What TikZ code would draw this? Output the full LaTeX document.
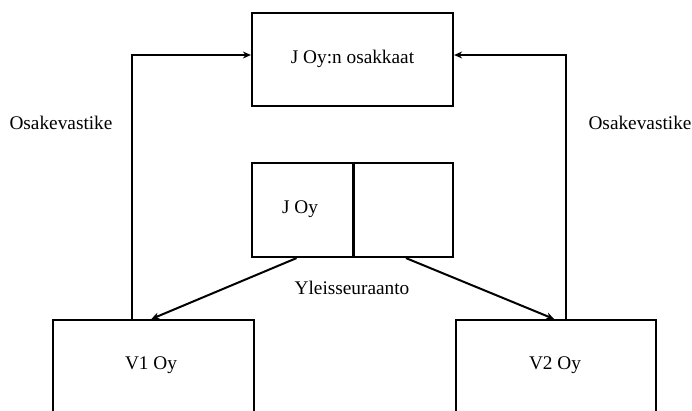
\documentclass[tikz,border=0pt]{standalone}
\usepackage{fontspec}
\setmainfont{Liberation Serif}
\usetikzlibrary{arrows.meta}
\begin{document}
\begin{tikzpicture}[x=1pt,y=-1pt,
  box/.style={draw,line width=2.2pt,inner sep=0pt},
  lbl/.style={inner sep=0pt,font=\fontsize{19.3}{23}\selectfont},
  arr/.style={line width=2pt,-{Stealth[length=8pt,width=7pt]}},
  ln/.style={line width=2.2pt}]
\useasboundingbox (0,0) rectangle (692,410);
\clip (0,0) rectangle (692,410);
\node[box,minimum width=201pt,minimum height=93pt] (top) at (352.5,59.5) {};
\node[lbl] (toptxt) at (352.5,59) {J Oy:n osakkaat};
\node[box,minimum width=201pt,minimum height=94pt] (j) at (352.5,210) {};
\coordinate (jdiv) at (353.5,0);
\draw[ln] (j.north -| jdiv) -- (j.south -| jdiv);
\node[lbl] (jtxt) at (300,209) {J Oy};
\node[box,minimum width=200.5pt,minimum height=130pt,anchor=north west] (v1) at (52,319) {};
\node[box,minimum width=200pt,minimum height=130pt,anchor=north west] (v2) at (454.5,319) {};
\node[lbl] (v1txt) at (151,365) {V1 Oy};
\node[lbl] (v2txt) at (555,365) {V2 Oy};
\node[lbl] (osl) at (61,123) {Osakevastike};
\node[lbl] (osr) at (640,123) {Osakevastike};
\node[lbl] (yl) at (352,288) {Yleisseuraanto};
\coordinate (lx) at (131.5,319);
\coordinate (rx) at (566,319);
\coordinate (ay) at (0,55);
\coordinate (d1) at (296.5,0);
\coordinate (d2) at (406,0);
\draw[arr] (lx) |- (top.west |- ay);
\draw[arr] (rx) |- (top.east |- ay);
\draw[arr] (j.south -| d1) -- ([xshift=-2pt]v1.north);
\draw[arr] (j.south -| d2) -- ([xshift=-1.5pt]v2.north);
\end{tikzpicture}
\end{document}
